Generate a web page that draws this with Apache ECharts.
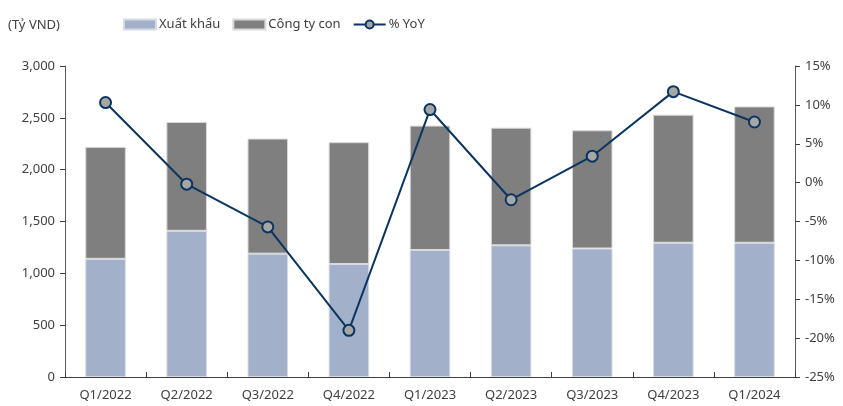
<!DOCTYPE html>
<html>
<head>
<meta charset="utf-8">
<script src="https://cdn.jsdelivr.net/npm/echarts@6/dist/echarts.min.js"></script>
<style>
html, body { margin: 0; padding: 0; background: #fff; }
#chart { width: 843px; height: 406px; }
</style>
</head>
<body>
<div id="chart"></div>
<script>
var quarters = ['Q1/2022', 'Q2/2022', 'Q3/2022', 'Q4/2022', 'Q1/2023', 'Q2/2023', 'Q3/2023', 'Q4/2023', 'Q1/2024']
// doanh thu theo nguồn (tỷ VND)
var xuatKhau = [1140, 1410, 1190, 1090, 1225, 1270, 1240, 1295, 1295]
var congTyCon = [1080, 1050, 1110, 1175, 1200, 1135, 1140, 1235, 1315]
// tăng trưởng so với cùng kỳ (%)
var yoy = [10.3, -0.2, -5.7, -19.0, 9.4, -2.2, 3.4, 11.7, 7.8]

var font = 'Noto Sans'
var textColor = '#404040'

var chart = echarts.init(document.getElementById('chart'))
var option = {
    animation: false,
    textStyle: { fontFamily: font },
    graphic: [
        {
            type: 'text',
            left: 8,
            top: 19,
            style: { text: '(Tỷ VND)', fill: textColor, fontSize: 13, fontFamily: font }
        }
    ],
    legend: {
        top: 13,
        left: 118,
        itemGap: 12,
        itemWidth: 32,
        itemHeight: 10,
        textStyle: { color: textColor, fontSize: 13, fontFamily: font, padding: [0, 0, 0, -2] },
        data: [
            { name: 'Xuất khẩu', icon: 'rect' },
            { name: 'Công ty con', icon: 'rect' },
            { name: '% YoY' }
        ]
    },
    grid: { left: 65, right: 48, top: 66, bottom: 29 },
    xAxis: {
        type: 'category',
        data: quarters,
        axisLine: { lineStyle: { color: '#404040' } },
        axisTick: { show: true, inside: true, length: 5, lineStyle: { color: '#404040' } },
        axisLabel: { color: textColor, fontSize: 13, margin: 12 }
    },
    yAxis: [
        {
            type: 'value',
            min: 0,
            max: 3000,
            interval: 500,
            axisLine: { show: true, lineStyle: { color: '#595959' } },
            axisTick: { show: true, length: 5, lineStyle: { color: '#404040' } },
            splitLine: { show: false },
            axisLabel: {
                color: textColor,
                fontSize: 13,
                margin: 10,
                formatter: function(v) { return v.toLocaleString('en-US') }
            }
        },
        {
            type: 'value',
            min: -25,
            max: 15,
            interval: 5,
            axisLine: { show: true, lineStyle: { color: '#595959' } },
            axisTick: { show: true, length: 5, lineStyle: { color: '#404040' } },
            splitLine: { show: false },
            axisLabel: { color: textColor, fontSize: 13, margin: 10, formatter: '{value}%' }
        }
    ],
    series: [
        {
            name: 'Xuất khẩu',
            type: 'bar',
            stack: 'dt',
            barWidth: '50%',
            itemStyle: { color: '#A2B1C9', borderColor: '#D6DCE5', borderWidth: 1 },
            data: xuatKhau
        },
        {
            name: 'Công ty con',
            type: 'bar',
            stack: 'dt',
            barWidth: '50%',
            itemStyle: { color: '#7F7F7F', borderColor: '#D9D9D9', borderWidth: 1 },
            data: congTyCon
        },
        {
            name: '% YoY',
            type: 'line',
            yAxisIndex: 1,
            symbol: 'circle',
            symbolSize: 11,
            lineStyle: { color: '#0B3560', width: 2 },
            itemStyle: { color: '#A6A6A6', borderColor: '#0B3560', borderWidth: 2 },
            data: yoy
        }
    ]
}
chart.setOption(option)
</script>
</body>
</html>
